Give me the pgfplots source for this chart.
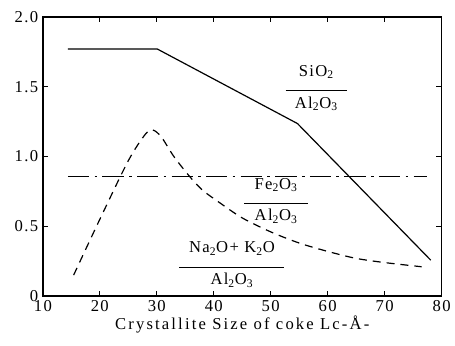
\documentclass[border=0pt]{standalone}
\usepackage{pgfplots}
\pgfplotsset{compat=1.18}
\usepackage{fontspec}
\setmainfont{Liberation Serif}
\newfontfamily\spaced[LetterSpace=13]{Liberation Serif}
\newfontfamily\lspaced[LetterSpace=8]{Liberation Serif}
\newcommand{\fr}[3]{\begin{tabular}{@{}c@{}}\makebox[#3]{#1}\\[-3pt]\rule{#3}{0.6pt}\\[-1pt]#2\end{tabular}}
\newcommand{\sub}[1]{\textsubscript{#1}}
\begin{document}
\begin{tikzpicture}
\begin{axis}[
  scale only axis, width=300pt, height=210pt,
  xmin=10, xmax=80, ymin=0, ymax=2,
  xtick={10,20,...,80},
  ytick={0,0.5,1,1.5,2},
  yticklabels={0,0.5,1.0,1.5,2.0},
  /pgf/number format/assume math mode=true,
  tick align=inside, major tick length=4pt,
  tick style={line width=0.8pt, black},
  axis line style={line width=1.1pt},
  ticklabel style={font=\fontsize{12.5}{14}\lspaced},
  xlabel={\fontsize{12.5}{14}\spaced Crystallite Size of coke Lc-Å-},
  xlabel style={yshift=4pt},
  clip=false,
]
\addplot[black, line width=0.9pt] coordinates {(14.4,1.77) (30.1,1.77) (54.7,1.236) (78.1,0.257)};
\addplot[black, line width=0.9pt, dash pattern=on 16pt off 4pt on 2pt off 4pt] coordinates {(14.4,0.857) (77.4,0.857)};
\addplot[black, line width=0.9pt, dash pattern=on 6pt off 4.5pt, smooth, tension=0.5] coordinates {
 (15.4,0.15) (20,0.55) (25,0.97) (28,1.16) (29.3,1.19) (30.8,1.14) (33,1.0) (35.7,0.86) (38,0.76) (41,0.67) (45,0.56) (50,0.46) (55,0.38) (60,0.32) (65,0.27) (70,0.24) (76.5,0.21)};
\node at (axis cs:58,1.486) {\fontsize{12.5}{14}\lspaced\fr{SiO\sub{2}}{Al\sub{2}O\sub{3}}{46pt}};
\node at (axis cs:50.95,0.679) {\fontsize{12.5}{14}\lspaced\fr{Fe\sub{2}O\sub{3}}{Al\sub{2}O\sub{3}}{48pt}};
\node at (axis cs:43.2,0.221) {\fontsize{12.5}{14}\lspaced\fr{Na\sub{2}O+ K\sub{2}O}{Al\sub{2}O\sub{3}}{79pt}};
\path (rel axis cs:-0.1075,-0.1786) (rel axis cs:1.03,1.0607);
\end{axis}
\end{tikzpicture}
\end{document}
